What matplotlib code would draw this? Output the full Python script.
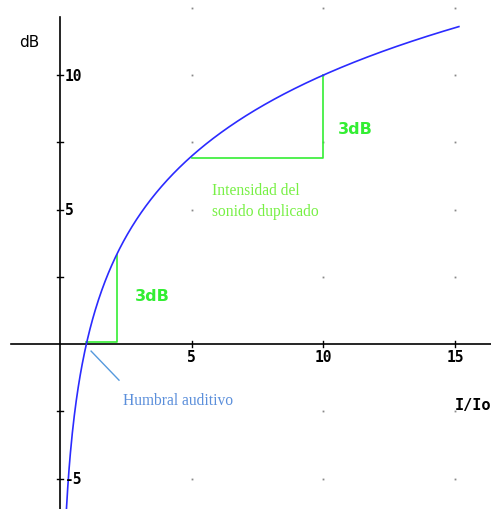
import numpy as np
import matplotlib
matplotlib.use("Agg")
import matplotlib.pyplot as plt

# ratio I/Io and level in dB
x_curve = np.linspace(0.244, 15.15, 600)
y_curve = 10 * np.log10(x_curve)

# ticks and labels
x_ticks = [5, 10, 15]
x_labels = ["5", "10", "15"]
y_ticks = [-5, -2.5, 2.5, 5, 7.5, 10]
y_labels = {10: "10", 5: "5", -5: "-5"}
grid_x = [5, 10, 15]
grid_y = [-5, -2.5, 2.5, 5, 7.5, 10, 12.5]
# dots that do not show up in the original
grid_hidden = [(5, 2.5), (10, 5), (5, -2.5)]

# doubling triangles
tri1_x = [1.0, 2.15, 2.15]
tri1_y = [0.08, 0.08, 3.3]
tri2_x = [5, 10, 10]
tri2_y = [6.91, 6.91, 10]

green = "#33ee33"
blue = "#2b2bff"

fig = plt.figure(figsize=(4.91, 5.10), dpi=100)
ax = fig.add_axes([0, 0, 1, 1])
ax.set_xlim(-2.28, 16.37)
ax.set_ylim(-6.13, 12.83)
ax.axis("off")

# grid dots
for gx in grid_x:
    for gy in grid_y:
        if (gx, gy) in grid_hidden:
            continue
        ax.plot(gx, gy, marker="s", ms=1.3, color="#888888", mec="none")

# axes lines
ax.plot([-1.86, 16.37], [0, 0], color="black", lw=1.2)
ax.plot([0, 0], [-6.13, 12.16], color="black", lw=1.2)
for t in x_ticks:
    ax.plot([t, t], [-0.12, 0.12], color="black", lw=1)
for t in y_ticks:
    ax.plot([-0.12, 0.12], [t, t], color="black", lw=1)

tick_font = dict(family="DejaVu Sans Mono", fontsize=10.5, fontweight="bold")
for t, lab in zip(x_ticks, x_labels):
    ax.text(t, -0.45, lab, ha="center", va="center", **tick_font)
for t, lab in y_labels.items():
    ax.text(0.19, t, lab, ha="left", va="center", **tick_font)

# triangles
ax.plot(tri1_x, tri1_y, color=green, lw=1.2)
ax.plot(tri2_x, tri2_y, color=green, lw=1.2)

# curve
ax.plot(x_curve, y_curve, color=blue, lw=1.2)

# annotations
ax.text(-1.18, 11.26, "dB", ha="center", va="center", fontsize=11, family="DejaVu Sans")
ax.text(15.0, -2.23, "I/Io", ha="left", va="center", clip_on=True, **dict(tick_font, fontsize=11))
ax.text(10.56, 8.0, "3dB", ha="left", va="center", color=green, fontsize=11.5, fontweight="bold")
ax.text(2.85, 1.82, "3dB", ha="left", va="center", color=green, fontsize=11.5, fontweight="bold")
ax.text(5.77, 5.35, "Intensidad del\nsonido duplicado", ha="left", va="center",
        color="#77f044", fontsize=11.2, family="Liberation Serif", linespacing=1.4)
ax.plot([1.18, 2.24], [-0.26, -1.34], color="#5599dd", lw=1)
ax.text(2.39, -2.08, "Humbral auditivo", ha="left", va="center",
        color="#5b8fdb", fontsize=11.2, family="Liberation Serif")

fig.savefig("out.png", dpi=100)
